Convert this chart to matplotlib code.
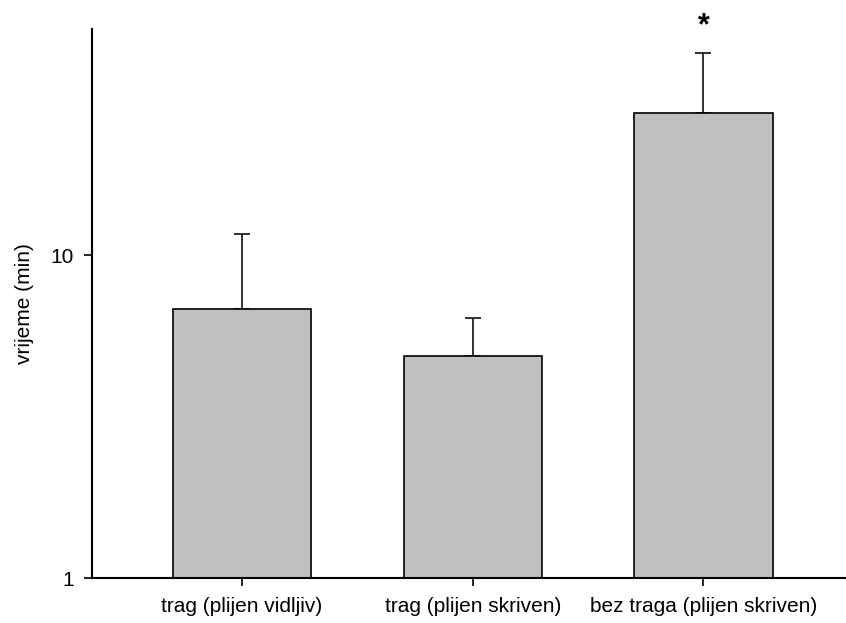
import numpy as np
import matplotlib.pyplot as plt

# data
categories = ['trag (plijen vidljiv)', 'trag (plijen skriven)', 'bez traga (plijen skriven)']
means = [6.8, 4.86, 27.4]
upper_err = [4.78, 1.54, 14.7]   # upper error only
significant = [False, False, True]

plt.rcParams['font.family'] = ['Liberation Sans', 'DejaVu Sans']

fig = plt.figure(figsize=(8.46, 6.23), dpi=100)
ax = fig.add_axes([0.1087, 0.0715, 0.8913, 0.882])

x = np.arange(len(categories))
ax.bar(x, means, width=0.6, color='#c0c0c0', edgecolor='black', linewidth=1.2, zorder=2)
ax.errorbar(x, means, yerr=[np.zeros(len(means)), upper_err], fmt='none',
            ecolor='#222222', elinewidth=1.3, capsize=6, capthick=1.3, zorder=1)

for i in range(len(categories)):
    if significant[i]:
        ax.annotate('*', xy=(x[i], means[i] + upper_err[i]), xytext=(0, 19),
                    textcoords='offset points', ha='center', va='center',
                    fontsize=22, fontweight='bold', annotation_clip=False)

ax.set_yscale('log')
ax.set_ylim(1, 50)
ax.set_xlim(-0.651, 2.618)
ax.set_yticks([1, 10])
ax.set_yticklabels(['1', '10'])
ax.yaxis.set_minor_locator(plt.NullLocator())
ax.set_xticks(x)
ax.set_xticklabels(categories)
ax.set_ylabel('vrijeme (min)', fontsize=15, labelpad=12)

ax.spines['top'].set_visible(False)
ax.spines['right'].set_visible(False)
ax.spines['left'].set_linewidth(1.5)
ax.spines['bottom'].set_linewidth(1.5)
ax.tick_params(axis='both', direction='out', length=6, width=1.2, labelsize=15, pad=7)

fig.savefig('out.png', dpi=100)
